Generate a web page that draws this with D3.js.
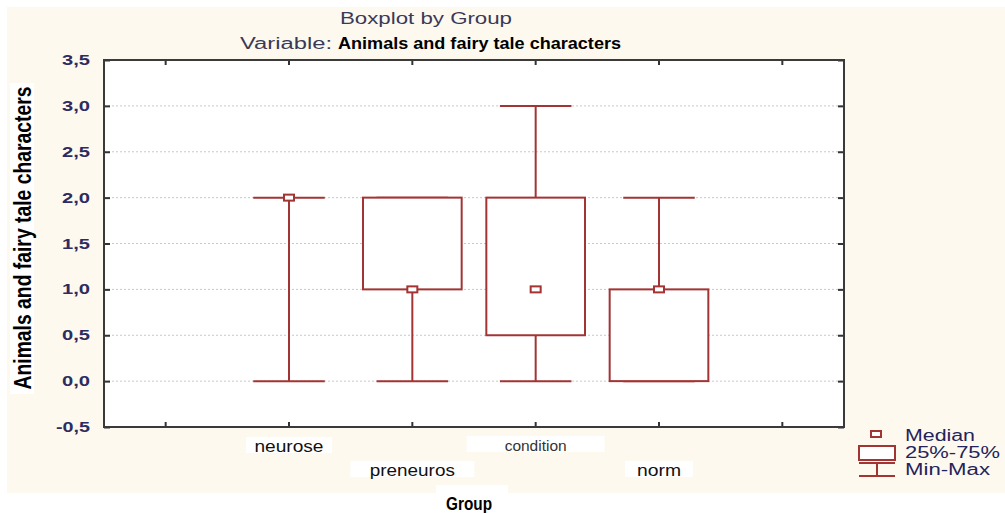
<!DOCTYPE html>
<html>
<head>
  <script src="https://d3js.org/d3.v7.min.js"></script>
  <title>Boxplot by Group</title>
  <style>
    body { margin: 0; background: #fff; }
    .tick-lab { font: bold 15px "Liberation Sans", Arial, sans-serif; fill: #2c2c60; }
    .legend-text { font: 16px "Liberation Sans", Arial, sans-serif; fill: #23235c; }
  </style>
</head>
<body>
<div id="chart-container"></div>
<script>
var groups = ["neurose", "preneuros", "condition", "norm"];
var mins = [0, 0, 0, 0];
var q1s = [2, 1, 0.5, 0];
var medians = [2, 1, 1, 1];
var q3s = [2, 2, 2, 1];
var maxs = [2, 2, 3, 2];
var yTicks = [-0.5, 0, 0.5, 1, 1.5, 2, 2.5, 3, 3.5];

var width = 1005, height = 513;
var plot = { left: 104, right: 844, top: 60, bottom: 427 };
var boxColor = "#a33434";

var data = groups.map(function(g, i) {
  return { group: g, min: mins[i], q1: q1s[i], median: medians[i], q3: q3s[i], max: maxs[i] };
});

var svg = d3.select("#chart-container")
  .append("svg")
  .attr("width", width)
  .attr("height", height);

// cream background like the original export
svg.append("rect")
  .attr("x", 7).attr("y", 7)
  .attr("width", width - 7).attr("height", 486)
  .attr("fill", "#fef9ef");

var slots = ["padL"].concat(groups).concat(["padR"]);
var xScale = d3.scaleBand()
  .domain(slots)
  .range([plot.left, plot.right]);

var yScale = d3.scaleLinear()
  .domain([-0.5, 3.5])
  .range([plot.bottom, plot.top]);

svg.append("rect")
  .attr("x", plot.left).attr("y", plot.top)
  .attr("width", plot.right - plot.left).attr("height", plot.bottom - plot.top)
  .attr("fill", "#fff");

// grid lines
svg.append("g")
  .selectAll("line")
  .data(yTicks.filter(function(d) { return d > -0.5 && d < 3.5; }))
  .enter().append("line")
  .attr("x1", plot.left).attr("x2", plot.right)
  .attr("y1", function(d) { return yScale(d); })
  .attr("y2", function(d) { return yScale(d); })
  .attr("stroke", "#c8c8c8")
  .attr("stroke-dasharray", "2,2");

// axes with inward ticks on all four sides
var fmt = function(d) { return d3.format(".1f")(d).replace(".", ",").replace("−", "-"); };
var bandCenter = function(d) { return xScale(d) + xScale.bandwidth() / 2; };

var axisStyle = function(g) {
  g.select(".domain").remove();
  g.selectAll(".tick line").attr("stroke", "#333").attr("stroke-width", 2);
};

svg.append("g")
  .attr("transform", "translate(" + plot.left + ",0)")
  .call(d3.axisRight(yScale).tickValues(yTicks).tickSize(6).tickFormat(""))
  .call(axisStyle);
svg.append("g")
  .attr("transform", "translate(" + plot.right + ",0)")
  .call(d3.axisLeft(yScale).tickValues(yTicks).tickSize(6).tickFormat(""))
  .call(axisStyle);

svg.append("g")
  .attr("transform", "translate(0," + plot.top + ")")
  .call(d3.axisBottom(xScale).tickSize(5).tickFormat(""))
  .call(axisStyle);
svg.append("g")
  .attr("transform", "translate(0," + plot.bottom + ")")
  .call(d3.axisTop(xScale).tickSize(5).tickFormat(""))
  .call(axisStyle);

svg.append("rect")
  .attr("x", plot.left).attr("y", plot.top)
  .attr("width", plot.right - plot.left).attr("height", plot.bottom - plot.top)
  .attr("fill", "none")
  .attr("stroke", "#3a3a3a")
  .attr("stroke-width", 2);

// y tick labels
svg.append("g")
  .selectAll("text")
  .data(yTicks)
  .enter().append("text")
  .attr("class", "tick-lab")
  .attr("x", 90)
  .attr("y", function(d) { return yScale(d) + 5; })
  .attr("text-anchor", "end")
  .attr("textLength", function(d) { return d < 0 ? 34 : 28; })
  .attr("lengthAdjust", "spacingAndGlyphs")
  .text(fmt);

// boxes
var boxW = xScale.bandwidth() * 0.8;
var capW = xScale.bandwidth() * 0.58;
var boxes = svg.selectAll(".box")
  .data(data)
  .enter().append("g")
  .attr("class", "box")
  .attr("transform", function(d) { return "translate(" + bandCenter(d.group) + ",0)"; });

boxes.append("line")
  .attr("x1", 0).attr("x2", 0)
  .attr("y1", function(d) { return yScale(d.max); })
  .attr("y2", function(d) { return yScale(d.q3); })
  .attr("stroke", boxColor).attr("stroke-width", 2);
boxes.append("line")
  .attr("x1", 0).attr("x2", 0)
  .attr("y1", function(d) { return yScale(d.q1); })
  .attr("y2", function(d) { return yScale(d.min); })
  .attr("stroke", boxColor).attr("stroke-width", 2);
boxes.append("line")
  .attr("x1", -capW / 2).attr("x2", capW / 2)
  .attr("y1", function(d) { return yScale(d.max); })
  .attr("y2", function(d) { return yScale(d.max); })
  .attr("stroke", boxColor).attr("stroke-width", 2);
boxes.append("line")
  .attr("x1", -capW / 2).attr("x2", capW / 2)
  .attr("y1", function(d) { return yScale(d.min); })
  .attr("y2", function(d) { return yScale(d.min); })
  .attr("stroke", boxColor).attr("stroke-width", 2);
boxes.append("rect")
  .attr("x", -boxW / 2)
  .attr("width", boxW)
  .attr("y", function(d) { return yScale(d.q3); })
  .attr("height", function(d) { return yScale(d.q1) - yScale(d.q3); })
  .attr("fill", "#fff")
  .attr("stroke", boxColor).attr("stroke-width", 2);
boxes.append("rect")
  .attr("x", -5).attr("width", 10)
  .attr("y", function(d) { return yScale(d.median) - 3; })
  .attr("height", 6)
  .attr("fill", "#fff")
  .attr("stroke", boxColor).attr("stroke-width", 2);

// titles (the export is stretched sideways, so lengths are fixed)
svg.append("text")
  .attr("x", 340).attr("y", 24)
  .attr("textLength", 172).attr("lengthAdjust", "spacingAndGlyphs")
  .style("font", "16px 'Liberation Sans', Arial, sans-serif")
  .style("fill", "#3a3a58")
  .text("Boxplot by Group");
svg.append("text")
  .attr("x", 240).attr("y", 49)
  .attr("textLength", 92).attr("lengthAdjust", "spacingAndGlyphs")
  .style("font", "16px 'Liberation Sans', Arial, sans-serif")
  .style("fill", "#3a3a58")
  .text("Variable:");
svg.append("text")
  .attr("x", 338).attr("y", 49)
  .attr("textLength", 283).attr("lengthAdjust", "spacingAndGlyphs")
  .style("font", "bold 17px 'Liberation Sans', Arial, sans-serif")
  .style("fill", "#000")
  .text("Animals and fairy tale characters");

// y axis title on its white patch
svg.append("rect")
  .attr("x", 10).attr("y", 83)
  .attr("width", 24).attr("height", 311)
  .attr("fill", "#fff");
svg.append("text")
  .attr("transform", "translate(31,238) rotate(-90)")
  .attr("text-anchor", "middle")
  .attr("textLength", 303).attr("lengthAdjust", "spacingAndGlyphs")
  .style("font", "bold 23px 'Liberation Sans', Arial, sans-serif")
  .style("fill", "#000")
  .text("Animals and fairy tale characters");

// x labels on white patches, staggered like the reference
var xLabels = [
  { group: "neurose", y: 453, w: 86, len: 69, size: 16, color: "#111" },
  { group: "preneuros", y: 477, w: 124, len: 85, size: 16, color: "#111" },
  { group: "condition", y: 452, w: 138, len: 62, size: 14, color: "#333" },
  { group: "norm", y: 477, w: 68, len: 44, size: 16, color: "#111" }
];
xLabels.forEach(function(l) {
  svg.append("rect")
    .attr("x", bandCenter(l.group) - l.w / 2)
    .attr("y", l.y - 16)
    .attr("width", l.w).attr("height", 16)
    .attr("fill", "#fff");
  svg.append("text")
    .attr("x", bandCenter(l.group) - l.len / 2)
    .attr("y", l.y - 1)
    .attr("textLength", l.len).attr("lengthAdjust", "spacingAndGlyphs")
    .style("font", l.size + "px 'Liberation Sans', Arial, sans-serif")
    .style("fill", l.color)
    .text(l.group);
});

svg.append("rect")
  .attr("x", 436).attr("y", 485)
  .attr("width", 72).attr("height", 28)
  .attr("fill", "#fff");
svg.append("text")
  .attr("x", 446).attr("y", 510)
  .attr("textLength", 46).attr("lengthAdjust", "spacingAndGlyphs")
  .style("font", "bold 19px 'Liberation Sans', Arial, sans-serif")
  .style("fill", "#000")
  .text("Group");

// legend
var lg = svg.append("g");
lg.append("rect")
  .attr("x", 871).attr("y", 431).attr("width", 10).attr("height", 6)
  .attr("fill", "#fff").attr("stroke", boxColor).attr("stroke-width", 2);
lg.append("rect")
  .attr("x", 859).attr("y", 446).attr("width", 36).attr("height", 14)
  .attr("fill", "#fff").attr("stroke", boxColor).attr("stroke-width", 2);
lg.append("line")
  .attr("x1", 859).attr("x2", 895).attr("y1", 463).attr("y2", 463)
  .attr("stroke", boxColor).attr("stroke-width", 2);
lg.append("line")
  .attr("x1", 877).attr("x2", 877).attr("y1", 463).attr("y2", 476)
  .attr("stroke", boxColor).attr("stroke-width", 2);
lg.append("line")
  .attr("x1", 859).attr("x2", 895).attr("y1", 476).attr("y2", 476)
  .attr("stroke", boxColor).attr("stroke-width", 2);
var legendLabels = ["Median", "25%-75%", "Min-Max"];
var legendLens = [70, 95, 85];
lg.selectAll(".legend-text")
  .data(legendLabels)
  .enter().append("text")
  .attr("class", "legend-text")
  .attr("x", 905)
  .attr("y", function(d, i) { return 441 + i * 17; })
  .attr("textLength", function(d, i) { return legendLens[i]; })
  .attr("lengthAdjust", "spacingAndGlyphs")
  .text(function(d) { return d; });
</script>
</body>
</html>
